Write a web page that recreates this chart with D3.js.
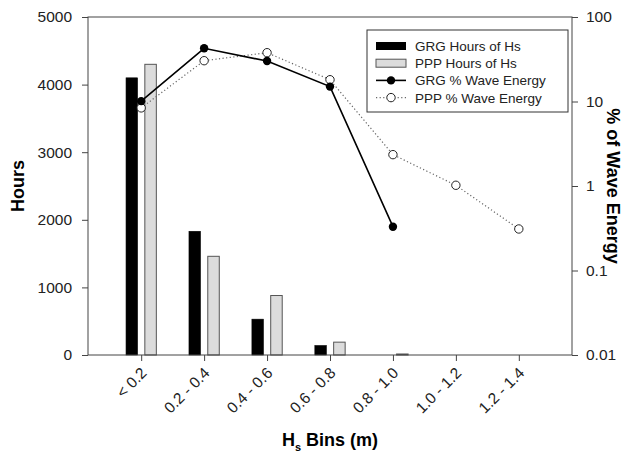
<!DOCTYPE html>
<html>
<head>
<meta charset="utf-8">
<script src="https://cdn.jsdelivr.net/npm/d3@7"></script>
<style>
  body { margin: 0; background: #fff; }
  text { font-family: "Liberation Sans", Arial, sans-serif; }
</style>
</head>
<body>
<div id="chart"></div>
<script>
const svgWidth = 640;
const svgHeight = 454;

// data
const bins = ["< 0.2", "0.2 - 0.4", "0.4 - 0.6", "0.6 - 0.8", "0.8 - 1.0", "1.0 - 1.2", "1.2 - 1.4"];
const grgHours = [4100, 1830, 530, 140, 0, 0, 0];
const pppHours = [4300, 1460, 880, 190, 15, 0, 0];
const grgEnergy = [10.1, 42.6, 30.1, 15.0, 0.33];
const pppEnergy = [8.4, 30.4, 37.8, 18.1, 2.35, 1.02, 0.31];
const hoursTicks = [0, 1000, 2000, 3000, 4000, 5000];
const energyTicks = [0.01, 0.1, 1, 10, 100];

const margin = {top: 17, right: 68, bottom: 99, left: 88};
const graphWidth = svgWidth - margin.left - margin.right;
const graphHeight = svgHeight - margin.top - margin.bottom;

const svg = d3.select("#chart")
  .append("svg")
  .attr("width", svgWidth)
  .attr("height", svgHeight);

const graph = svg.append("g")
  .attr("transform", `translate(${margin.left}, ${margin.top})`);

const x = d3.scalePoint()
  .domain(bins)
  .range([0, graphWidth])
  .padding(0.845);

const y = d3.scaleLinear()
  .domain([0, 5000])
  .range([graphHeight, 0]);

const yLog = d3.scaleLog()
  .domain([0.01, 100])
  .range([graphHeight, 0]);

const axisColor = "#444";
const barW = 11.5;
const barOff = 9.4;

// bars (skip empty ones)
graph.selectAll(".grg-bar")
  .data(bins.filter((d, i) => grgHours[i] > 0))
  .enter()
  .append("rect")
  .attr("class", "grg-bar")
  .attr("x", d => x(d) - barOff - barW / 2)
  .attr("y", d => y(grgHours[bins.indexOf(d)]))
  .attr("width", barW)
  .attr("height", d => graphHeight - y(grgHours[bins.indexOf(d)]))
  .attr("fill", "#000")
  .attr("stroke", "#000")
  .attr("stroke-width", 0.6);

graph.selectAll(".ppp-bar")
  .data(bins.filter((d, i) => pppHours[i] > 0))
  .enter()
  .append("rect")
  .attr("class", "ppp-bar")
  .attr("x", d => x(d) + barOff - barW / 2)
  .attr("y", d => y(pppHours[bins.indexOf(d)]))
  .attr("width", barW)
  .attr("height", d => graphHeight - y(pppHours[bins.indexOf(d)]))
  .attr("fill", "#dcdcdc")
  .attr("stroke", "#555")
  .attr("stroke-width", 1);

// energy lines
const energyLine = d3.line()
  .x((d, i) => x(bins[i]))
  .y(d => yLog(d));

graph.append("path")
  .datum(pppEnergy)
  .attr("d", energyLine)
  .attr("fill", "none")
  .attr("stroke", "#666")
  .attr("stroke-width", 1.2)
  .attr("stroke-dasharray", "1.2,2.4");

graph.append("path")
  .datum(grgEnergy)
  .attr("d", energyLine)
  .attr("fill", "none")
  .attr("stroke", "#000")
  .attr("stroke-width", 1.6);

graph.selectAll(".ppp-dot")
  .data(pppEnergy)
  .enter()
  .append("circle")
  .attr("cx", (d, i) => x(bins[i]))
  .attr("cy", d => yLog(d))
  .attr("r", 4.2)
  .attr("fill", "#fff")
  .attr("stroke", "#222")
  .attr("stroke-width", 1);

graph.selectAll(".grg-dot")
  .data(grgEnergy)
  .enter()
  .append("circle")
  .attr("cx", (d, i) => x(bins[i]))
  .attr("cy", d => yLog(d))
  .attr("r", 4.2)
  .attr("fill", "#000");

// frame
graph.append("rect")
  .attr("width", graphWidth)
  .attr("height", graphHeight)
  .attr("fill", "none")
  .attr("stroke", axisColor)
  .attr("stroke-width", 1);

// axes
const styleAxis = g => {
  g.select(".domain").remove();
  g.selectAll(".tick line").attr("stroke", axisColor);
  g.selectAll(".tick text").attr("fill", "#222").style("font-size", "15.5px")
    .style("font-family", "'Liberation Sans', Arial, sans-serif");
};

graph.append("g")
  .call(d3.axisLeft(y).tickValues(hoursTicks).tickSize(6).tickPadding(10)
    .tickFormat(d3.format("d")))
  .call(styleAxis);

graph.append("g")
  .attr("transform", `translate(${graphWidth}, 0)`)
  .call(d3.axisRight(yLog).tickValues(energyTicks).tickSize(6).tickPadding(8)
    .tickFormat(d => d3.format("~g")(d)))
  .call(styleAxis);

const xAxis = graph.append("g")
  .attr("transform", `translate(0, ${graphHeight})`)
  .call(d3.axisBottom(x).tickSize(6))
  .call(styleAxis);

xAxis.selectAll(".tick text")
  .attr("text-anchor", "end")
  .attr("dy", null)
  .attr("y", 0)
  .attr("transform", "translate(6, 19) rotate(-45)");

// axis titles
svg.append("text")
  .attr("transform", `translate(24, ${margin.top + graphHeight / 2}) rotate(-90)`)
  .attr("text-anchor", "middle")
  .style("font-size", "18px")
  .style("font-weight", "bold")
  .text("Hours");

svg.append("text")
  .attr("transform", `translate(607, ${margin.top + graphHeight / 2}) rotate(90)`)
  .attr("text-anchor", "middle")
  .style("font-size", "18px")
  .style("font-weight", "bold")
  .text("% of Wave Energy");

const xTitle = svg.append("text")
  .attr("x", margin.left + graphWidth / 2)
  .attr("y", 446)
  .attr("text-anchor", "middle")
  .style("font-size", "18px")
  .style("font-weight", "bold");
xTitle.append("tspan").text("H");
xTitle.append("tspan").attr("dy", 5).style("font-size", "11px").text("s");
xTitle.append("tspan").attr("dy", -5).text(" Bins (m)");

// legend
const legend = svg.append("g").attr("transform", "translate(367, 30)");
legend.append("rect")
  .attr("width", 201)
  .attr("height", 82)
  .attr("fill", "#fff")
  .attr("stroke", "#333")
  .attr("stroke-width", 1);

const legendItems = ["GRG Hours of Hs", "PPP Hours of Hs", "GRG % Wave Energy", "PPP % Wave Energy"];
const rowY = i => 16 + i * 17.2;

legend.append("rect").attr("x", 9).attr("y", rowY(0) - 4).attr("width", 30).attr("height", 8)
  .attr("fill", "#000");
legend.append("rect").attr("x", 9).attr("y", rowY(1) - 4).attr("width", 30).attr("height", 8)
  .attr("fill", "#dcdcdc").attr("stroke", "#555");
legend.append("line").attr("x1", 9).attr("x2", 39).attr("y1", rowY(2)).attr("y2", rowY(2))
  .attr("stroke", "#000").attr("stroke-width", 1.6);
legend.append("circle").attr("cx", 24).attr("cy", rowY(2)).attr("r", 4.2).attr("fill", "#000");
legend.append("line").attr("x1", 9).attr("x2", 39).attr("y1", rowY(3)).attr("y2", rowY(3))
  .attr("stroke", "#666").attr("stroke-width", 1.2).attr("stroke-dasharray", "1.2,2.4");
legend.append("circle").attr("cx", 24).attr("cy", rowY(3)).attr("r", 4.2)
  .attr("fill", "#fff").attr("stroke", "#222");

legend.selectAll(".leg-text")
  .data(legendItems)
  .enter()
  .append("text")
  .attr("x", 48)
  .attr("y", (d, i) => rowY(i) + 5)
  .style("font-size", "13.5px")
  .attr("fill", "#222")
  .text(d => d);
</script>
</body>
</html>
